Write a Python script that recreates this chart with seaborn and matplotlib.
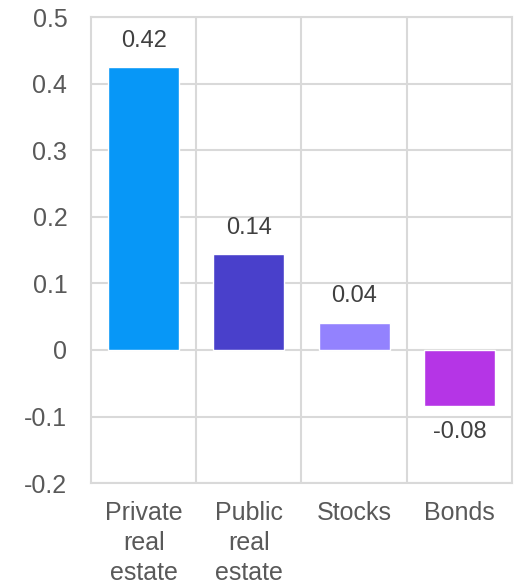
import matplotlib
matplotlib.use("Agg")
import matplotlib.pyplot as plt
from matplotlib.ticker import FixedLocator
import seaborn as sns
import pandas as pd

# Data
categories = ["Private\nreal\nestate", "Public\nreal\nestate", "Stocks", "Bonds"]
values = [0.425, 0.144, 0.041, -0.084]
colors = ["#0797F7", "#4940CB", "#9382FE", "#B535E6"]
y_ticks = [-0.2, -0.1, 0, 0.1, 0.2, 0.3, 0.4, 0.5]
y_tick_labels = ["-0.2", "-0.1", "0", "0.1", "0.2", "0.3", "0.4", "0.5"]

sns.set_theme(style="white")
plt.rcParams["font.family"] = ["Liberation Sans", "DejaVu Sans"]

df = pd.DataFrame({"category": categories, "value": values})

fig = plt.figure(figsize=(5.14, 5.87), dpi=100)
ax = fig.add_axes([0.177, 0.177, 0.819, 0.794])

sns.barplot(data=df, x="category", y="value", hue="category", palette=colors,
            width=0.675, saturation=1, dodge=False, legend=False, ax=ax, zorder=3)

grid_color = "#D9D9D9"
ax.set_axisbelow(True)
ax.set_xlim(-0.5, len(categories) - 0.5)
ax.set_ylim(-0.2, 0.5)
ax.set_yticks(y_ticks)
ax.set_yticklabels(y_tick_labels)
ax.yaxis.grid(True, color=grid_color, linewidth=1.5)
ax.xaxis.set_minor_locator(FixedLocator([i + 0.5 for i in range(len(categories) - 1)]))
ax.xaxis.grid(True, which="minor", color=grid_color, linewidth=1.5)
ax.xaxis.grid(False, which="major")
for sp in ax.spines.values():
    sp.set_color(grid_color)
    sp.set_linewidth(1.5)

ax.set_xlabel("")
ax.set_ylabel("")
ax.tick_params(axis="x", which="both", length=0, pad=13, labelsize=18, labelcolor="#595959")
ax.tick_params(axis="y", length=0, pad=17, labelsize=18, labelcolor="#595959")
for lbl in ax.get_xticklabels():
    lbl.set_linespacing(1.3)

for container in ax.containers:
    ax.bar_label(container, fmt="%.2f", padding=11, fontsize=17, color="#404040")

fig.savefig("out.png", dpi=100)
